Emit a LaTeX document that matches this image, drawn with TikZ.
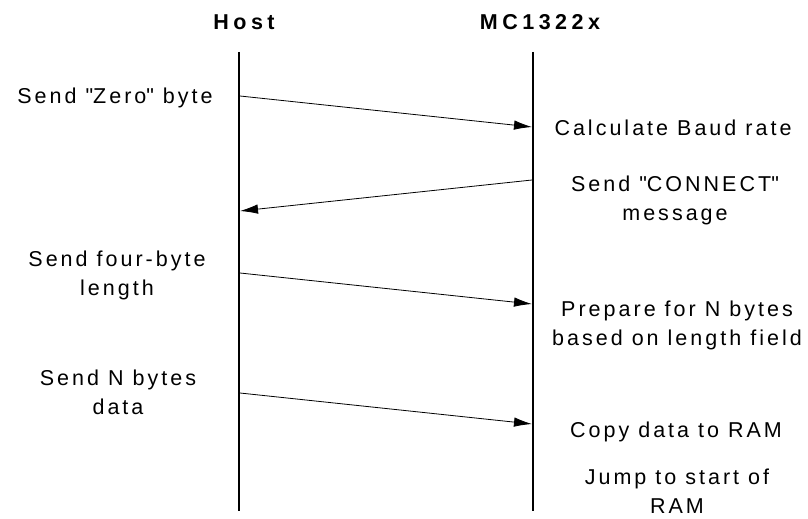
\documentclass[tikz,border=0pt]{standalone}
\usepackage{fontspec}
\setmainfont{Liberation Sans}[LetterSpace=14]
\newfontfamily\headfont{Liberation Sans}[LetterSpace=21]
\usetikzlibrary{arrows.meta}
\begin{document}
\begin{tikzpicture}[x=1pt,y=-1pt,
  lifeline/.style={line width=2pt},
  msg/.style={line width=0.8pt,-{Latex[length=18pt,width=9.5pt]}},
  note/.style={anchor=base,inner sep=0pt,align=center,font=\fontsize{21.5}{29}\selectfont},
  head/.style={anchor=base,inner sep=0pt,font=\fontsize{21.5}{29}\selectfont\headfont\bfseries}]
\useasboundingbox (0,0) rectangle (808,519);

\node[head] (host) at (244,30) {Host};
\node[head] (mc) at (540,30) {MC1322x};

\coordinate (host top) at (239,52);
\coordinate (host bot) at (239,511);
\coordinate (mc top) at (533,52);
\coordinate (mc bot) at (533,511);
\draw[lifeline] (host top) -- (host bot);
\draw[lifeline] (mc top) -- (mc bot);

\coordinate (h1) at (240,96);
\coordinate (m1) at (532,127);
\coordinate (m2) at (532,180);
\coordinate (h2) at (240,211);
\coordinate (h3) at (240,273);
\coordinate (m3) at (532,304);
\coordinate (h4) at (240,393);
\coordinate (m4) at (532,424);

\draw[msg] (h1) -- (m1);
\draw[msg] (m2) -- (h2);
\draw[msg] (h3) -- (m3);
\draw[msg] (h4) -- (m4);

% multi-line notes sit on the baseline of their last line
\node[note] (zero) at (115,103) {Send \textquotedbl Zero\textquotedbl{} byte};
\node[note] (len) at (117,295) {Send four-byte\\length};
\node[note] (data) at (118,414) {Send N bytes\\data};

\node[note] (baud) at (673,135) {Calculate Baud rate};
\node[note] (conn) at (675,220) {Send \textquotedbl CONNECT\textquotedbl\\message};
\node[note] (prep) at (677,345) {Prepare for N bytes\\based on length field};
\node[note] (copy) at (676,437) {Copy data to RAM};
\node[note] (jump) at (677,513) {Jump to start of\\RAM};
\end{tikzpicture}
\end{document}
